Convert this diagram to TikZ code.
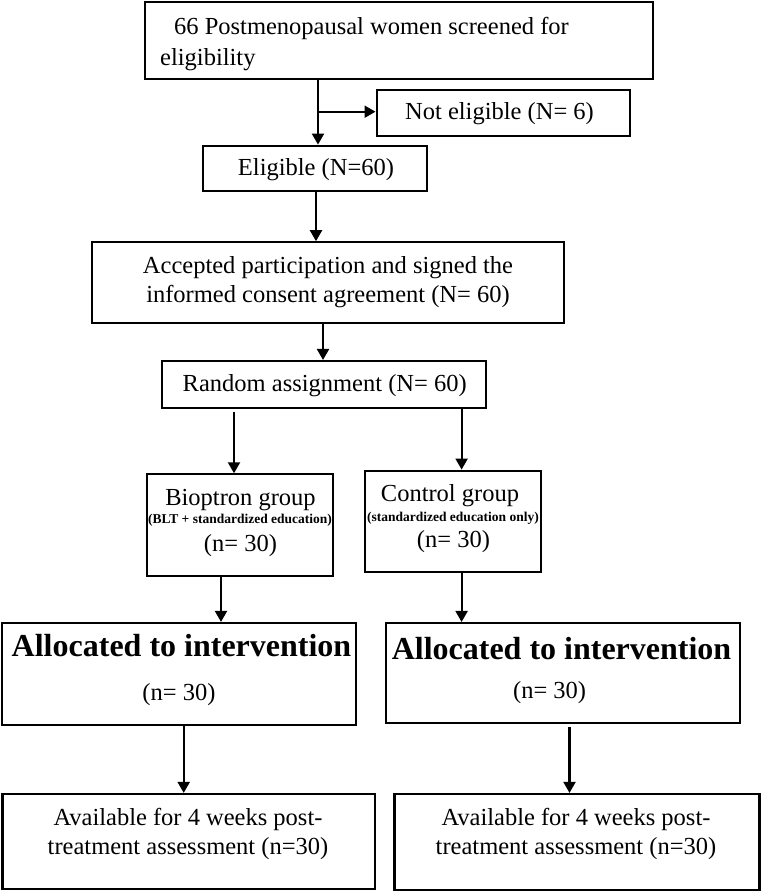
\documentclass[tikz,border=0pt]{standalone}
\usepackage{fontspec}
\setmainfont{Liberation Serif}
\usetikzlibrary{arrows.meta}
\begin{document}
\begin{tikzpicture}[x=1pt,y=-1pt,
  box/.style={draw,line width=2.2pt,inner sep=0pt,anchor=center},
  lbl/.style={inner sep=0pt,align=center,font=\fontsize{24.5}{29}\selectfont},
  big/.style={inner sep=0pt,font=\fontsize{32}{36}\selectfont\bfseries},
  small/.style={inner sep=0pt,font=\fontsize{13.5}{15}\selectfont\bfseries},
  arr/.style={line width=2.1pt,-{Triangle[length=11pt,width=12pt]}}]
\useasboundingbox[fill=white] (0,0) rectangle (762,892);

% boxes
\node[box,minimum width=507.6pt,minimum height=77pt] (screen) at (398.8,40.2) {};
\node[box,minimum width=253.4pt,minimum height=46pt] (notel) at (503.3,113) {};
\node[box,minimum width=223.6pt,minimum height=45.6pt] (elig) at (314.8,168.5) {};
\node[box,minimum width=471.6pt,minimum height=81pt] (accept) at (327.8,282.8) {};
\node[box,minimum width=323.7pt,minimum height=47.3pt] (random) at (324.2,384.7) {};
\node[box,minimum width=186.3pt,minimum height=101.7pt] (bio) at (240.2,525.2) {};
\node[box,minimum width=176pt,minimum height=101.6pt] (ctrl) at (453,521.5) {};
\node[box,minimum width=353.3pt,minimum height=102pt] (allocL) at (179,674) {};
\node[box,minimum width=353.7pt,minimum height=100.3pt] (allocR) at (563.2,673.2) {};
\node[box,minimum width=372.6pt,minimum height=95pt] (availL) at (188.7,841.5) {};
\node[box,minimum width=365pt,minimum height=96pt] (availR) at (577,842) {};

% texts
\node[lbl,align=left,anchor=west,font=\fontsize{24.5}{31}\selectfont] (screentxt) at (160,44)
  {\hspace*{14pt}66 Postmenopausal women screened for\\eligibility};
\node[lbl] (noteltxt) at (499.5,114) {Not eligible (N= 6)};
\node[lbl] (eligtxt) at (316,169.5) {Eligible (N=60)};
\node[lbl] (accepttxt) at (328,282) {Accepted participation and signed the\\informed consent agreement (N= 60)};
\node[lbl] (randomtxt) at (324.7,385.5) {Random assignment (N= 60)};
\node[lbl] (biotxt) at (240.5,500) {Bioptron group};
\node[small] (biosub) at (240,520.5) {(BLT + standardized education)};
\node[lbl] (bion) at (240.5,546) {(n= 30)};
\node[lbl] (ctrltxt) at (450,496) {Control group};
\node[small] (ctrlsub) at (453,518.5) {(standardized education only)};
\node[lbl] (ctrln) at (453.5,541.7) {(n= 30)};
\node[big] (allocLtxt) at (181.5,646) {Allocated to intervention};
\node[lbl] (allocLn) at (179,695) {(n= 30)};
\node[big] (allocRtxt) at (561.5,649) {Allocated to intervention};
\node[lbl] (allocRn) at (549.6,693) {(n= 30)};
\node[lbl] (availLtxt) at (188,833.5) {Available for 4 weeks post-\\treatment assessment (n=30)};
\node[lbl] (availRtxt) at (576,833.5) {Available for 4 weeks post-\\treatment assessment (n=30)};

% connectors
\coordinate (c1) at (318,0);
\coordinate (c2) at (316,0);
\coordinate (c3) at (323,0);
\coordinate (c4) at (234,0);
\coordinate (c5) at (461.6,0);
\coordinate (c6) at (221,0);
\coordinate (c7) at (183.7,0);
\coordinate (c8) at (569.5,0);
\coordinate (br) at (318,111.7);

\draw[arr] (c1 |- screen.south) -- (c1 |- elig.north);
\draw[arr] (br) -- (br -| notel.west);
\draw[arr] (c2 |- elig.south) -- (c2 |- accept.north);
\draw[arr] (c3 |- accept.south) -- (c3 |- random.north);
\draw[arr] ([yshift=-3pt]c4 |- random.south) -- (c4 |- bio.north);
\draw[arr] (c5 |- random.south) -- (c5 |- ctrl.north);
\draw[arr] (c6 |- bio.south) -- (c6 |- allocL.north);
\draw[arr] (c5 |- ctrl.south) -- (c5 |- allocR.north);
\draw[arr] (c7 |- allocL.south) -- (c7 |- availL.north);
\draw[arr] ([yshift=-3pt]c8 |- allocR.south) -- (c8 |- availR.north);
\end{tikzpicture}
\end{document}
